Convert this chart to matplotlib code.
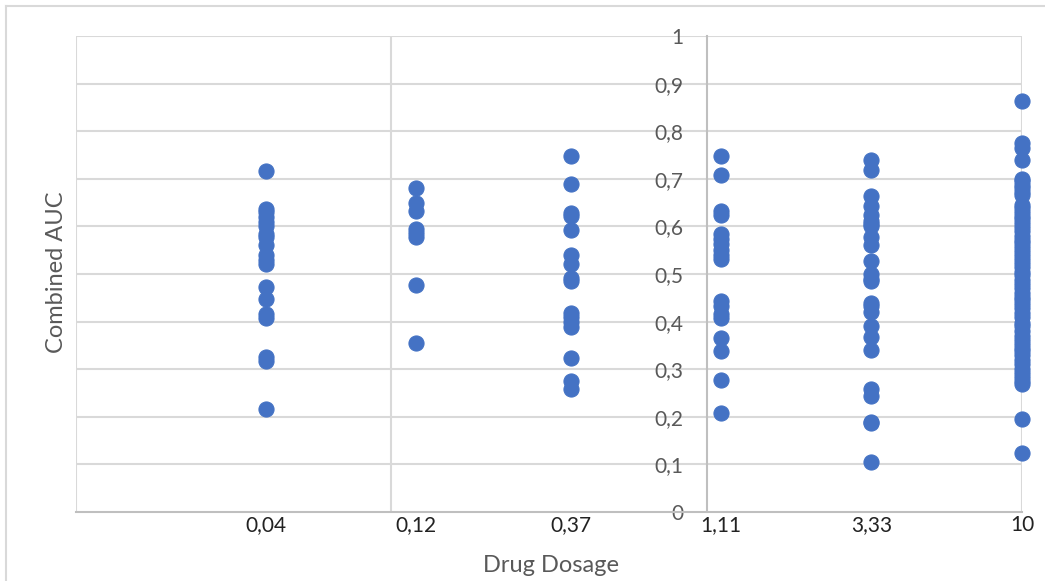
import matplotlib

matplotlib.use("Agg")
import matplotlib.pyplot as plt
from matplotlib.lines import Line2D

plt.rcParams["font.family"] = ["Lato", "DejaVu Sans"]

# drug dosages (x, log axis) and their tick labels
dosages = [0.04, 0.12, 0.37, 1.11, 3.33, 10]
dosage_labels = ["0,04", "0,12", "0,37", "1,11", "3,33", "10"]

# combined AUC per dosage
auc_004 = [0.717, 0.636, 0.630, 0.620, 0.610, 0.600, 0.585, 0.578, 0.560,
           0.540, 0.530, 0.520, 0.472, 0.448, 0.415, 0.408, 0.325, 0.318, 0.217]
auc_012 = [0.680, 0.650, 0.632, 0.595, 0.587, 0.578, 0.477, 0.356]
auc_037 = [0.748, 0.690, 0.628, 0.622, 0.593, 0.540, 0.522, 0.492, 0.485,
           0.418, 0.410, 0.400, 0.388, 0.323, 0.275, 0.258]
auc_111 = [0.748, 0.708, 0.632, 0.625, 0.583, 0.573, 0.562, 0.550, 0.540,
           0.532, 0.443, 0.432, 0.415, 0.408, 0.366, 0.338, 0.278, 0.207]
auc_333 = [0.740, 0.718, 0.663, 0.643, 0.623, 0.612, 0.605, 0.600, 0.578,
           0.560, 0.528, 0.500, 0.490, 0.485, 0.440, 0.432, 0.420, 0.390,
           0.368, 0.340, 0.258, 0.243, 0.190, 0.187, 0.105]
auc_10 = [0.863, 0.775, 0.765, 0.740, 0.700, 0.695, 0.688, 0.680, 0.672,
          0.665, 0.645, 0.638, 0.630, 0.622, 0.615, 0.607, 0.598, 0.590,
          0.580, 0.572, 0.565, 0.556, 0.548, 0.540, 0.532, 0.523, 0.515,
          0.505, 0.497, 0.488, 0.480, 0.470, 0.460, 0.452, 0.445, 0.436,
          0.428, 0.418, 0.410, 0.398, 0.390, 0.380, 0.370, 0.362, 0.352,
          0.345, 0.338, 0.330, 0.320, 0.310, 0.300, 0.292, 0.283, 0.275,
          0.268, 0.195, 0.123]
auc_groups = [auc_004, auc_012, auc_037, auc_111, auc_333, auc_10]

y_ticks = [0, 0.1, 0.2, 0.3, 0.4, 0.5, 0.6, 0.7, 0.8, 0.9, 1]
y_tick_labels = ["0", "0,1", "0,2", "0,3", "0,4", "0,5", "0,6", "0,7", "0,8", "0,9", "1"]

BLUE = "#4472C4"
GRID = "#D9D9D9"
AXIS = "#BFBFBF"
LABEL = "#595959"

fig = plt.figure(figsize=(10.45, 5.81), dpi=100)
ax = fig.add_axes([76 / 1045, 69 / 581, 946 / 1045, 476 / 581])

for dose, values in zip(dosages, auc_groups):
    ax.scatter([dose] * len(values), values, s=118, color=BLUE,
               edgecolors=BLUE, linewidths=0.8, zorder=3, clip_on=False)

ax.set_xscale("log")
ax.set_xlim(0.01, 10)
ax.set_ylim(0, 1)

# horizontal gridlines and decade gridlines like the Excel log axis
for y in y_ticks[1:]:
    ax.axhline(y, color=GRID, linewidth=1.5, zorder=1)
for x in [0.01, 0.1, 10]:
    ax.axvline(x, color=GRID, linewidth=1.5, zorder=1)

for side in ["top", "right"]:
    ax.spines[side].set_visible(False)
ax.spines["left"].set_position(("data", 1))
ax.spines["left"].set_color(AXIS)
ax.spines["left"].set_linewidth(1.5)
ax.spines["bottom"].set_color(AXIS)
ax.spines["bottom"].set_linewidth(1.5)

ax.set_yticks(y_ticks)
ax.set_yticklabels(y_tick_labels)
ax.set_xticks(dosages)
ax.set_xticklabels(dosage_labels)
ax.xaxis.set_minor_locator(matplotlib.ticker.NullLocator())
ax.tick_params(axis="y", length=0, pad=17, labelsize=15, labelcolor=LABEL)
ax.tick_params(axis="x", length=0, pad=2, labelsize=15, labelcolor="#222222")

fig.text(551 / 1045, 1 - 565 / 581, "Drug Dosage", ha="center", va="center",
         fontsize=17, color=LABEL)
fig.text(57 / 1045, 1 - 272 / 581, "Combined AUC", ha="center", va="center",
         rotation=90, fontsize=17, color=LABEL)

# chart area border (only the left and top edges are inside the picture)
fig.add_artist(Line2D([6 / 1045, 6 / 1045], [0, 1 - 6 / 581],
                      transform=fig.transFigure, color=GRID, linewidth=1.5))
fig.add_artist(Line2D([6 / 1045, 1], [1 - 6 / 581, 1 - 6 / 581],
                      transform=fig.transFigure, color=GRID, linewidth=1.5))

fig.savefig("out.png", dpi=100)
plt.close(fig)
